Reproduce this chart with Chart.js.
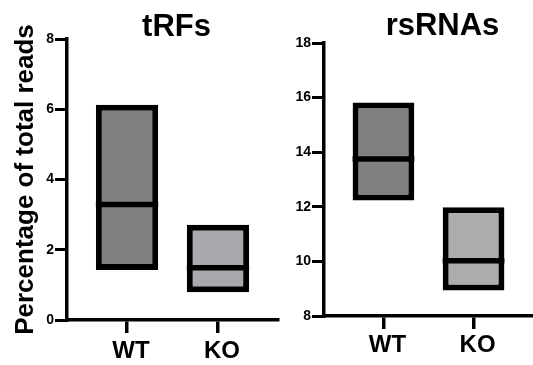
<!DOCTYPE html>
<html><head><meta charset="utf-8">
<script src="https://cdn.jsdelivr.net/npm/chart.js@4.4.1/dist/chart.umd.min.js"></script>
<style>
html,body{margin:0;padding:0;background:#fff;}
#wrap{position:relative;width:533px;height:365px;overflow:hidden;background:#fff;}
canvas{position:absolute;top:0;}
</style></head><body>
<div id="wrap">
<canvas id="left" width="282" height="365" style="left:0"></canvas>
<canvas id="right" width="253" height="365" style="left:280px"></canvas>
</div>
<script>
// ---- data ----
const categories = ['WT', 'KO'];
const tRFsMin = [1.42, 0.79];
const tRFsMax = [6.13, 2.71];
const tRFsMedian = [3.29, 1.49];
const rsRNAsMin = [12.23, 8.93];
const rsRNAsMax = [15.82, 11.98];
const rsRNAsMedian = [13.75, 10.02];
const tRFsRange = [0, 8];
const rsRNAsRange = [8, 18];

const medianPlugin = {
  id: 'medianLine',
  afterDatasetsDraw(chart) {
    const ds = chart.data.datasets[0];
    const meta = chart.getDatasetMeta(0);
    const ys = chart.scales.y;
    const ctx = chart.ctx;
    ctx.save();
    ctx.strokeStyle = '#000';
    ctx.lineWidth = 5.5;
    meta.data.forEach((bar, i) => {
      const p = bar.getProps(['x', 'width'], true);
      const py = ys.getPixelForValue(ds.medians[i]);
      ctx.beginPath();
      ctx.moveTo(p.x - p.width / 2, py);
      ctx.lineTo(p.x + p.width / 2, py);
      ctx.stroke();
    });
    ctx.restore();
  }
};

const panelTitle = {
  id: 'panelTitle',
  afterDraw(chart, args, opts) {
    const {ctx, chartArea} = chart;
    ctx.save();
    ctx.font = 'bold 31px Arial, "Liberation Sans", sans-serif';
    ctx.fillStyle = '#000';
    ctx.textAlign = 'center';
    ctx.textBaseline = 'alphabetic';
    ctx.fillText(opts.text, (chartArea.left + chartArea.right) / 2 + opts.dx, opts.y);
    ctx.restore();
  }
};

function makeChart(id, mins, maxs, medians, range, colors, cfg) {
  return new Chart(document.getElementById(id), {
    type: 'bar',
    data: {
      datasets: [{
        data: categories.map((c, i) => ({x: i, y: [mins[i], maxs[i]]})),
        medians: medians,
        backgroundColor: colors,
        borderColor: '#000',
        borderWidth: 6,
        borderSkipped: false,
        categoryPercentage: 1,
        barPercentage: 0.685,
        grouped: false
      }]
    },
    options: {
      responsive: false,
      animation: false,
      events: [],
      layout: {padding: cfg.padding},
      plugins: {
        legend: {display: false},
        tooltip: {enabled: false},
        title: {display: false},
        panelTitle: {text: cfg.title, dx: cfg.titleDx, y: cfg.titleY}
      },
      scales: {
        x: {
          type: 'linear',
          offset: false,
          min: -0.66,
          max: 1.66,
          afterBuildTicks: s => { s.ticks = categories.map((c, i) => ({value: i})); },
          afterFit: s => { s.height = cfg.xHeight; },
          ticks: {
            callback: v => categories[v],
            color: '#000',
            font: {family: 'Arial', weight: 'bold', size: 24},
            padding: cfg.xLabelPad,
            labelOffset: 4,
            maxRotation: 0,
            autoSkip: false
          },
          grid: {offset: false, display: true, drawOnChartArea: false, drawTicks: true, tickLength: 13, color: '#000', lineWidth: 3.5, tickWidth: 3.5},
          border: {display: true, color: '#000', width: 3.5}
        },
        y: {
          min: range[0],
          max: range[1],
          afterFit: s => { s.width = cfg.yWidth; },
          ticks: {
            stepSize: 2,
            color: '#000',
            font: {family: 'Arial', weight: 'bold', size: 14},
            padding: 1
          },
          grid: {drawOnChartArea: false, drawTicks: true, tickLength: 12, color: '#000', lineWidth: 3, tickWidth: 3},
          border: {display: true, color: '#000', width: 3.5},
          title: {
            display: !!cfg.yTitle,
            text: cfg.yTitle || '',
            color: '#000',
            font: {family: 'Arial', weight: 'bold', size: 26},
            padding: {top: 10, bottom: 0}
          }
        }
      }
    },
    plugins: [medianPlugin, panelTitle]
  });
}

makeChart('left', tRFsMin, tRFsMax, tRFsMedian, tRFsRange, ['#808080', '#a7a9ac'], {
  padding: {top: 39, right: 4, left: 0, bottom: 0},
  xHeight: 45, yWidth: 67, xLabelPad: 4,
  title: 'tRFs', titleDx: 4, titleY: 36,
  yTitle: 'Percentage of total reads'
});
makeChart('right', rsRNAsMin, rsRNAsMax, rsRNAsMedian, rsRNAsRange, ['#808080', '#adadad'], {
  padding: {top: 43, right: 0, left: 0, bottom: 0},
  xHeight: 49, yWidth: 44, xLabelPad: 2,
  title: 'rsRNAs', titleDx: 14, titleY: 35,
  yTitle: ''
});
</script>
</body></html>
